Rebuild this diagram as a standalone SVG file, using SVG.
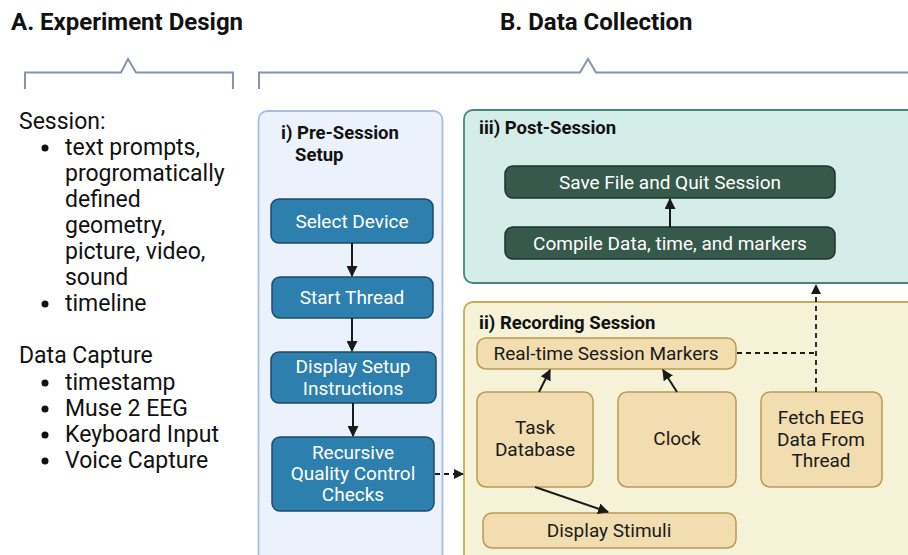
<svg xmlns="http://www.w3.org/2000/svg" width="908" height="555" viewBox="0 0 908 555">
<defs>
<style>
text{font-family:Roboto,"Liberation Sans",sans-serif;fill:#111}
.h{font-size:24px;font-weight:bold}
.l{font-size:23px}
.pt{font-size:18.5px;font-weight:bold}
.bt{font-size:19px;fill:#fff;text-anchor:middle}
.tt{font-size:19px;fill:#1a1a1a;text-anchor:middle}
.br{fill:none;stroke:#8494b4;stroke-width:2}
.blue{fill:#2d80ae;stroke:#1b4b68;stroke-width:1.5}
.green{fill:#37594b;stroke:#1e3329;stroke-width:1.5}
.tan{fill:#f2ddb0;stroke:#b89a55;stroke-width:1.5}
.c{fill:none;stroke:#1a1a1a;stroke-width:2}
.d{fill:none;stroke:#1a1a1a;stroke-width:1.8;stroke-dasharray:5 4}
</style>
<marker id="ah" viewBox="0 0 10 10" refX="9" refY="5" markerWidth="5.5" markerHeight="5.5" orient="auto" markerUnits="strokeWidth">
<path d="M0,0 L10,5 L0,10 z" fill="#1a1a1a"/>
</marker>
</defs>
<rect width="908" height="555" fill="#fff"/>

<text class="h" x="11" y="30">A. Experiment Design</text>
<text class="h" x="500" y="30">B. Data Collection</text>
<path class="br" d="M25,89 V72.5 H121 L128,59 L136,72.5 H233 V89"/>
<path class="br" d="M259,89 V72.5 H580 L588,59 L596,72.5 H908"/>

<g id="experiment-list">
<text class="l" x="19" y="129">Session:</text>
<circle cx="45" cy="148" r="3.5" fill="#111"/>
<text class="l" x="65" y="155">text prompts,</text>
<text class="l" x="65" y="181">progromatically</text>
<text class="l" x="65" y="207">defined</text>
<text class="l" x="65" y="233">geometry,</text>
<text class="l" x="65" y="259">picture, video,</text>
<text class="l" x="65" y="285">sound</text>
<circle cx="45" cy="304" r="3.5" fill="#111"/>
<text class="l" x="65" y="311">timeline</text>
<text class="l" x="19" y="363">Data Capture</text>
<circle cx="45" cy="383" r="3.5" fill="#111"/>
<text class="l" x="65" y="390">timestamp</text>
<circle cx="45" cy="409" r="3.5" fill="#111"/>
<text class="l" x="65" y="416">Muse 2 EEG</text>
<circle cx="45" cy="435" r="3.5" fill="#111"/>
<text class="l" x="65" y="442">Keyboard Input</text>
<circle cx="45" cy="461" r="3.5" fill="#111"/>
<text class="l" x="65" y="468">Voice Capture</text>
</g>

<g id="panel-pre-session">
<rect x="258.5" y="111" width="184" height="460" rx="9" fill="#ecf2fb" stroke="#a8bde0" stroke-width="1.8"/>
<text class="pt" x="281" y="139">i) Pre-Session</text>
<text class="pt" x="295" y="161">Setup</text>
</g>
<g id="panel-post-session">
<rect x="464" y="110" width="460" height="173" rx="9" fill="#d4ede9" stroke="#3f8a78" stroke-width="1.8"/>
<text class="pt" x="479" y="134">iii) Post-Session</text>
</g>
<g id="panel-recording">
<rect x="464" y="302" width="460" height="270" rx="9" fill="#f5f2d8" stroke="#c6ac58" stroke-width="1.8"/>
<text class="pt" x="479" y="329">ii) Recording Session</text>
</g>

<g id="select-device">
<rect class="blue" x="271" y="199" width="162" height="44" rx="8"/>
<text class="bt" x="352" y="228">Select Device</text>
</g>
<g id="start-thread">
<rect class="blue" x="272" y="277" width="161" height="41" rx="8"/>
<text class="bt" x="352" y="304">Start Thread</text>
</g>
<g id="display-setup">
<rect class="blue" x="271" y="352" width="165" height="51" rx="8"/>
<text class="bt" x="353" y="372.5">Display Setup</text>
<text class="bt" x="353" y="395">Instructions</text>
</g>
<g id="quality-checks">
<rect class="blue" x="272" y="437" width="162" height="74" rx="8"/>
<text class="bt" x="353" y="459">Recursive</text>
<text class="bt" x="353" y="480">Quality Control</text>
<text class="bt" x="353" y="501">Checks</text>
</g>

<g id="save-file">
<rect class="green" x="505" y="166" width="330" height="32" rx="8"/>
<text class="bt" x="670" y="188.5">Save File and Quit Session</text>
</g>
<g id="compile-data">
<rect class="green" x="505" y="227" width="330" height="32" rx="8"/>
<text class="bt" x="670" y="249.5">Compile Data, time, and markers</text>
</g>

<g id="session-markers">
<rect class="tan" x="477" y="338" width="259" height="31" rx="9"/>
<text class="tt" x="606" y="359.5">Real-time Session Markers</text>
</g>
<g id="task-database">
<rect class="tan" x="477" y="392" width="116" height="95" rx="9"/>
<text class="tt" x="535" y="434">Task</text>
<text class="tt" x="535" y="456">Database</text>
</g>
<g id="clock">
<rect class="tan" x="618" y="392" width="118" height="95" rx="9"/>
<text class="tt" x="677" y="445">Clock</text>
</g>
<g id="fetch-eeg">
<rect class="tan" x="761" y="392" width="121" height="95" rx="9"/>
<text class="tt" x="821" y="424">Fetch EEG</text>
<text class="tt" x="821" y="446">Data From</text>
<text class="tt" x="821" y="467">Thread</text>
</g>
<g id="display-stimuli">
<rect class="tan" x="483" y="513" width="253" height="35" rx="9"/>
<text class="tt" x="609" y="537">Display Stimuli</text>
</g>

<g id="connectors">
<path class="c" d="M352,243 V276" marker-end="url(#ah)"/>
<path class="c" d="M352,318 V351" marker-end="url(#ah)"/>
<path class="c" d="M353,403 V436" marker-end="url(#ah)"/>
<path class="d" d="M435,474 H463" marker-end="url(#ah)"/>
<path class="c" d="M670,227 V199" marker-end="url(#ah)"/>
<path class="c" d="M539,392 L550,370" marker-end="url(#ah)"/>
<path class="c" d="M677,392 L663,370" marker-end="url(#ah)"/>
<path class="c" d="M535,487 L608,512" marker-end="url(#ah)"/>
<path class="d" d="M737,353 H816"/>
<path class="d" d="M816,392 V285" marker-end="url(#ah)"/>
</g>
</svg>
